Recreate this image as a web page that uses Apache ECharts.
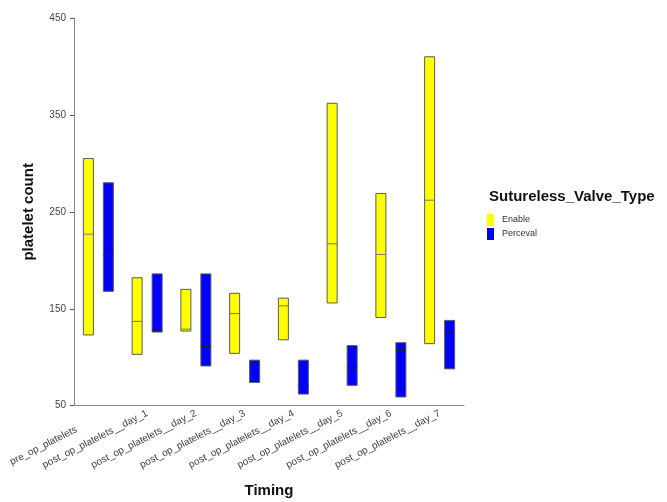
<!DOCTYPE html>
<html>
<head>
<meta charset="utf-8">
<script src="https://cdn.jsdelivr.net/npm/echarts@6/dist/echarts.min.js"></script>
<style>
html,body{margin:0;padding:0;background:#fff;}
#chart{width:667px;height:502px;}
</style>
</head>
<body>
<div id="chart"></div>
<script>
const categories = ["pre_op_platelets","post_op_platelets__day_1","post_op_platelets__day_2","post_op_platelets__day_3","post_op_platelets__day_4","post_op_platelets__day_5","post_op_platelets__day_6","post_op_platelets__day_7"];
const enableMin    = [123, 103, 127, 104, 118, 156, 141, 114];
const enableMax    = [305, 182, 170, 166, 161, 362, 269, 410];
const enableMedian = [227, 137, 129, 145, 153, 217, 206, 262];
const percevalMin    = [168, 126, 91, 74, 62, 71, 59, 88];
const percevalMax    = [280, 186, 186, 97, 97, 112, 115, 138];
const percevalMedian = [205, 128, 111, 92, 71, 89, 107, 125];
const yTicks = [50, 150, 250, 350, 450];

function build(mins, maxs, meds){
  return categories.map((c,i)=>[i, mins[i], maxs[i], meds[i]]);
}
function makeRender(offset, fill, medColor){
  return function(params, api){
    const x = api.value(0);
    const top = api.coord([x, api.value(2)]);
    const bot = api.coord([x, api.value(1)]);
    const med = api.coord([x, api.value(3)]);
    const w = 10;
    const cx = top[0] + offset;
    return {
      type:'group',
      children:[
        {type:'rect', shape:{x:cx-w/2, y:top[1], width:w, height:bot[1]-top[1]},
         style:{fill:fill, stroke:'#5a5a5a', lineWidth:1}},
        {type:'line', shape:{x1:cx-w/2, y1:med[1], x2:cx+w/2, y2:med[1]},
         style:{stroke:medColor, lineWidth:1}}
      ]
    };
  };
}
const chart = echarts.init(document.getElementById('chart'), null, {renderer:'canvas'});
chart.setOption({
  animation:false,
  title:{text:'Sutureless_Valve_Type', left:489, top:189, padding:0,
    textStyle:{fontFamily:'Liberation Sans', fontSize:15, fontWeight:'bold', color:'#111'}},
  legend:{orient:'vertical', left:487, top:214, padding:0, itemWidth:7, itemHeight:12, itemGap:2,
    icon:'rect', data:['Enable','Perceval'],
    itemStyle:{borderWidth:0},
    textStyle:{fontFamily:'Liberation Sans', fontSize:9, color:'#333', padding:[0,0,0,3]}},
  grid:{left:74, right:203, top:18, bottom:96.3, containLabel:false, outerBoundsMode:'none'},
  xAxis:{type:'category', data:categories, name:'Timing', nameLocation:'middle', nameGap:78,
    nameTextStyle:{fontFamily:'Liberation Sans', fontSize:15, fontWeight:'bold', color:'#111'},
    axisLine:{lineStyle:{color:'#8a8a8a'}},
    axisTick:{alignWithLabel:true, length:4, lineStyle:{color:'#555'}},
    axisLabel:{rotate:27, fontFamily:'Liberation Sans', fontSize:10, color:'#444', margin:7, interval:0,
      formatter:(v, i)=> i === 0 ? '{p|' + v + '}' : v,
      rich:{p:{fontFamily:'Liberation Sans', fontSize:10, color:'#444', padding:[9,27,0,0]}}}},
  yAxis:{type:'value', min:50, max:450, interval:100, name:'platelet count', nameLocation:'middle', nameGap:38,
    nameTextStyle:{fontFamily:'Liberation Sans', fontSize:15, fontWeight:'bold', color:'#111'},
    splitLine:{show:false},
    axisLine:{show:true, lineStyle:{color:'#8a8a8a'}},
    axisTick:{show:true, length:4, lineStyle:{color:'#555'}},
    axisLabel:{fontFamily:'Liberation Sans', fontSize:10, color:'#444', margin:8,
      formatter:(v)=> yTicks.includes(v) ? String(v) : ''}},
  series:[
    {name:'Enable', type:'custom', renderItem:makeRender(-10,'#ffff00','#777'),
     itemStyle:{color:'#ffff00'}, encode:{x:0, y:[1,2,3]}, data:build(enableMin, enableMax, enableMedian)},
    {name:'Perceval', type:'custom', renderItem:makeRender(10,'#0000ff','#222'),
     itemStyle:{color:'#0000ff'}, encode:{x:0, y:[1,2,3]}, data:build(percevalMin, percevalMax, percevalMedian)}
  ]
});
</script>
</body>
</html>
